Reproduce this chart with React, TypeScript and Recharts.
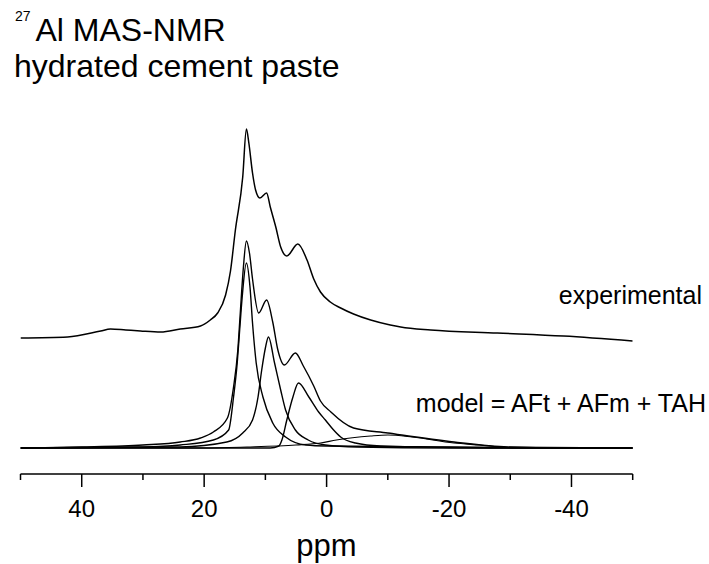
import { Line, LineChart, XAxis, YAxis } from "recharts";

const FONT = "Arial, 'Liberation Sans', Helvetica, sans-serif";
const INK = "#000";

// chemical shift axis (ppm), shown high -> low
const PPM_TICKS = [50, 40, 30, 20, 10, 0, -10, -20, -30, -40, -50];
const MAJOR_TICKS = [40, 20, 0, -20, -40];

// vertical offsets of the two stacked traces (a.u.)
const MODEL_OFFSET = 26;
const EXP_OFFSET = 133;

// experimental spectrum
const expPpm = [50, 42.3, 36.9, 35.3, 32.8, 30.4, 27.1, 23.9, 20.6, 19.0, 17.8, 16.5, 15.7, 14.9, 13.7, 13.1, 12.7, 12.1, 11.6, 10.9, 9.8, 9.2, 8.3, 7.5, 6.5, 4.7, 3.2, 2.1, 1.0, -0.6, -2.3, -4.4, -7.2, -10.4, -12.1, -17.0, -27.9, -38.7, -50];
const expInt = [3, 4, 10, 12, 11, 10, 9, 12, 15, 21, 28, 46, 70, 111, 164, 212, 198, 168, 151, 143, 148, 134, 114, 94, 85, 97, 81, 62, 49, 39, 33, 27, 21, 16, 14, 11, 8, 5, 0];

// model = AFt + AFm + TAH
const sumPpm = [50, 40, 30, 23.9, 20.6, 18.5, 16.2, 15.2, 14.5, 14.1, 13.6, 13.1, 12.6, 12.1, 11.1, 9.8, 8.8, 8.0, 6.9, 5.1, 3.8, 2.1, 1.0, -0.7, -4.4, -10.0, -20.8, -29.6, -38.7, -50];
const sumInt = [0, 1, 3, 6, 10, 16, 30, 61, 98, 135, 180, 207, 195, 169, 135, 148, 126, 99, 83, 95, 82, 62, 47, 36, 20, 15, 6, 1, 0, 0];

// components
const aftPpm = [50, 30, 23.9, 18.5, 16.0, 15.2, 14.6, 14.2, 13.8, 13.1, 12.5, 12.1, 11.5, 10.4, 8.8, 6.7, 3.4, 0, -20, -50];
const aftInt = [0, 1, 3, 8, 18, 51, 85, 118, 150, 185, 160, 125, 85, 51, 25, 11, 3, 2, 1, 0];

const afmPpm = [50, 24, 16.3, 13.7, 12.1, 11.2, 10.6, 10.0, 9.5, 8.5, 7.5, 6.7, 5.1, 3.0, 0.2, -5, -20, -50];
const afmInt = [0, 1, 6, 15, 28, 51, 78, 100, 111, 85, 58, 38, 18, 8, 3, 1, 0, 0];

const tahPpm = [50, 9.2, 7.8, 7.3, 6.5, 5.5, 4.6, 2.9, 1.3, 0.2, -1.0, -2.3, -4.7, -8.8, -17, -30, -50];
const tahInt = [0, 0, 2, 8, 28, 51, 65, 51, 36, 28, 19, 11, 5, 2, 1, 0, 0];

const broadPpm = [50, 20, 13, 5, 1, -1.6, -7.2, -10, -14, -20.8, -25, -31, -50];
const broadInt = [0, 0, 1, 3, 5, 8, 12, 13, 11, 5, 3, 0, 0];

const toSeries = (ppm: number[], val: number[], offset: number) =>
  ppm.map((p, i) => ({ ppm: p, v: val[i] + offset }));

const series = [
  { key: "exp", data: toSeries(expPpm, expInt, EXP_OFFSET), width: 1.5 },
  { key: "sum", data: toSeries(sumPpm, sumInt, MODEL_OFFSET), width: 1.4 },
  { key: "aft", data: toSeries(aftPpm, aftInt, MODEL_OFFSET), width: 1.4 },
  { key: "afm", data: toSeries(afmPpm, afmInt, MODEL_OFFSET), width: 1.4 },
  { key: "tah", data: toSeries(tahPpm, tahInt, MODEL_OFFSET), width: 1.4 },
  { key: "broad", data: toSeries(broadPpm, broadInt, MODEL_OFFSET), width: 1.1 },
];

function PpmTick({ x, y, payload }: any) {
  const major = MAJOR_TICKS.includes(payload.value);
  return (
    <g>
      <line x1={x} x2={x} y1={y} y2={y + (major ? 13 : 6)} stroke={INK} strokeWidth={1.5} />
      {major && (
        <text x={x} y={y + 43} textAnchor="middle" fontSize={24} fontFamily={FONT} fill={INK}>
          {String(payload.value)}
        </text>
      )}
    </g>
  );
}

export default function App() {
  return (
    <div style={{ position: "absolute", left: 0, top: 0, width: 709, height: 564, background: "#fff" }}>
      <LineChart width={709} height={564} margin={{ top: 74, right: 76.3, bottom: 0, left: 20.5 }}>
        <XAxis
          type="number"
          dataKey="ppm"
          domain={[-50, 50]}
          reversed
          allowDataOverflow
          ticks={PPM_TICKS}
          interval={0}
          height={90}
          tickSize={0}
          tickMargin={0}
          tickLine={false}
          axisLine={{ stroke: INK, strokeWidth: 1.5 }}
          tick={<PpmTick />}
        />
        <YAxis hide type="number" domain={[0, 400]} allowDataOverflow />
        {series.map((s) => (
          <Line
            key={s.key}
            data={s.data}
            dataKey="v"
            type="monotone"
            stroke={INK}
            strokeWidth={s.width}
            dot={false}
            activeDot={false}
            isAnimationActive={false}
          />
        ))}
      </LineChart>
      <svg width={709} height={564} style={{ position: "absolute", left: 0, top: 0, pointerEvents: "none" }}>
        <g fontFamily={FONT} fill={INK}>
          <text x={15} y={21} fontSize={14}>27</text>
          <text x={35.5} y={41} fontSize={32}>Al MAS-NMR</text>
          <text x={14} y={77} fontSize={32}>hydrated cement paste</text>
          <text x={702} y={304} fontSize={25} textAnchor="end">experimental</text>
          <text x={706} y={412} fontSize={25} textAnchor="end">model = AFt + AFm + TAH</text>
          <text x={326.5} y={556} fontSize={31} textAnchor="middle">ppm</text>
        </g>
      </svg>
    </div>
  );
}
